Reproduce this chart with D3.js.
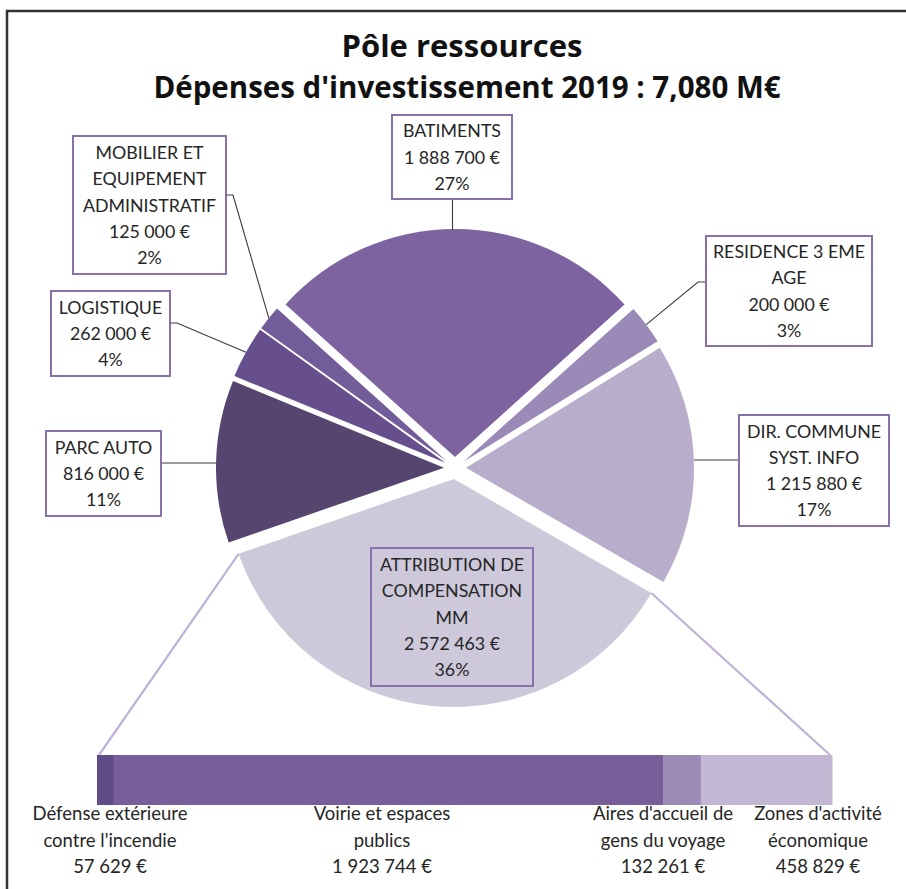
<!DOCTYPE html>
<html>
<head>
<meta charset="utf-8">
<script src="https://cdn.jsdelivr.net/npm/d3@7"></script>
<style>
  html, body { margin: 0; padding: 0; background: #fff; }
  svg { display: block; }
  text { font-family: Lato, "Open Sans", "Liberation Sans", sans-serif; fill: #262626; }
  text.title { font-family: "Open Sans", Lato, sans-serif; }
</style>
</head>
<body>
<svg id="chart" width="906" height="889"></svg>
<script>
// ---- data ----
const title1 = "Pôle ressources";
const title2 = "Dépenses d'investissement 2019 : 7,080 M€";

const pieCategories = [
  ["BATIMENTS"],
  ["RESIDENCE 3 EME", "AGE"],
  ["DIR. COMMUNE", "SYST. INFO"],
  ["ATTRIBUTION DE", "COMPENSATION", "MM"],
  ["PARC AUTO"],
  ["LOGISTIQUE"],
  ["MOBILIER ET", "EQUIPEMENT", "ADMINISTRATIF"]
];
const pieValues = [1888700, 200000, 1215880, 2572463, 816000, 262000, 125000];
const piePercentLabels = ["27%", "3%", "17%", "36%", "11%", "4%", "2%"];

const barCategories = [
  ["Défense extérieure", "contre l'incendie"],
  ["Voirie et espaces", "publics"],
  ["Aires d'accueil de", "gens du voyage"],
  ["Zones d'activité", "économique"]
];
const barValues = [57629, 1923744, 132261, 458829];

// ---- styles / layout ----
const pieColors = ["#7d63a0", "#9b8ab8", "#b8aecb", "#cdc8da", "#55456f", "#664f8c", "#735c9a"];
const barColors = ["#5f4b86", "#775e98", "#9c8bb6", "#c2b8d3"];
const boxStroke = "#8671ad";

const W = 906, H = 889;
const cx = 455, cy = 468, R = 228, explode = 11;
const startDeg = -48;
const explodedIndex = 3;

// label boxes: x, y, w, h, leader anchor side
const boxes = [
  {x: 392, y: 115, w: 120, h: 84, anchor: "bottom"},
  {x: 706, y: 236, w: 166, h: 110, anchor: "left", ay: 282},
  {x: 739, y: 415, w: 150, h: 111, anchor: "left", ay: 460},
  {x: 371, y: 548, w: 162, h: 138, anchor: null},
  {x: 46, y: 431, w: 115, h: 85, anchor: "right", ay: 463},
  {x: 51, y: 291, w: 119, h: 85, anchor: "right", ay: 323},
  {x: 73, y: 136, w: 153, h: 138, anchor: "right", ay: 195}
];

const fr = d3.formatLocale({decimal: ",", thousands: "\u202f", grouping: [3], currency: ["", "\u00a0€"]});
const fmtEuro = v => fr.format(",d")(v) + "\u00a0€";

const svg = d3.select("#chart");
svg.append("rect").attr("width", W).attr("height", H).attr("fill", "#fff");
// outer frame
svg.append("rect").attr("x", 7).attr("y", 11).attr("width", 1000).attr("height", 1000)
  .attr("fill", "none").attr("stroke", "#333").attr("stroke-width", 2.5);

// titles
svg.append("text").attr("class", "title").attr("x", 462).attr("y", 57).attr("text-anchor", "middle")
  .attr("font-size", 31).attr("font-weight", "bold").style("fill", "#111").text(title1);
svg.append("text").attr("class", "title").attr("x", 467).attr("y", 98).attr("text-anchor", "middle")
  .attr("font-size", 29.5).attr("font-weight", "bold").style("fill", "#111").text(title2);

// ---- pie ----
const pie = d3.pie().sort(null)
  .startAngle(startDeg * Math.PI / 180)
  .endAngle((startDeg + 360) * Math.PI / 180);
const arcs = pie(pieValues);
const arcGen = d3.arc().innerRadius(0).outerRadius(R);

function offsetOf(a) {
  const m = (a.startAngle + a.endAngle) / 2;
  return [explode * Math.sin(m), -explode * Math.cos(m)];
}
function outerPoint(a, ang) {
  const m = ang === undefined ? (a.startAngle + a.endAngle) / 2 : ang;
  const o = offsetOf(a);
  return [cx + o[0] + R * Math.sin(m), cy + o[1] - R * Math.cos(m)];
}

const gPie = svg.append("g");
gPie.selectAll("path").data(arcs).join("path")
  .attr("transform", d => { const o = offsetOf(d); return `translate(${cx + o[0]},${cy + o[1]})`; })
  .attr("d", arcGen)
  .attr("fill", (d, i) => pieColors[i]);

// ---- bar of pie ----
const barX0 = 97, barX1 = 832, barY = 755, barH = 50;
const barTotal = d3.sum(barValues);
const xBar = d3.scaleLinear().domain([0, barTotal]).range([barX0, barX1]);
const cum = d3.cumsum([0, ...barValues]);

// connector lines
const ea = arcs[explodedIndex];
const pL = outerPoint(ea, ea.endAngle);
const pR = outerPoint(ea, ea.startAngle);
svg.append("line").attr("x1", pL[0]).attr("y1", pL[1]).attr("x2", barX0 + 2).attr("y2", barY)
  .attr("stroke", "#bfb2d5").attr("stroke-width", 2.2);
svg.append("line").attr("x1", pR[0]).attr("y1", pR[1]).attr("x2", barX1 - 2).attr("y2", barY)
  .attr("stroke", "#bfb2d5").attr("stroke-width", 2.2);

svg.append("g").selectAll("rect").data(barValues).join("rect")
  .attr("x", (d, i) => xBar(cum[i]))
  .attr("width", (d, i) => xBar(cum[i + 1]) - xBar(cum[i]) + 0.5)
  .attr("y", barY).attr("height", barH)
  .attr("fill", (d, i) => barColors[i]);

// bar labels
const barLabelX = [110, 382, 663, 818];
barCategories.forEach((lines, i) => {
  const t = svg.append("text").attr("text-anchor", "middle").attr("font-size", 18.5);
  [...lines, fmtEuro(barValues[i])].forEach((s, k) => {
    t.append("tspan").attr("x", barLabelX[i]).attr("y", 820 + k * 26.5).text(s);
  });
});

// ---- pie labels ----
const gLab = svg.append("g");
arcs.forEach((a, i) => {
  const b = boxes[i];
  const p = outerPoint(a);
  if (b.anchor) {
    let pts;
    if (b.anchor === "bottom") pts = [[b.x + b.w / 2 + 0.5, b.y + b.h], [b.x + b.w / 2 + 0.5, p[1] + 1]];
    else if (b.anchor === "left") pts = [[b.x, b.ay], [b.x - 8, b.ay], p];
    else pts = [[b.x + b.w, b.ay], [b.x + b.w + 7, b.ay], p];
    if (i === 4 || i === 2) pts = [[b.anchor === "left" ? b.x : b.x + b.w, b.ay], [p[0], b.ay]];
    gLab.append("path").attr("d", d3.line()(pts)).attr("fill", "none")
      .attr("stroke", "#3a3a3a").attr("stroke-width", 1.1);
  }
  gLab.append("rect").attr("x", b.x).attr("y", b.y).attr("width", b.w).attr("height", b.h)
    .attr("fill", i === explodedIndex ? "none" : "#fff")
    .attr("stroke", boxStroke).attr("stroke-width", 2);
  const lines = [...pieCategories[i], fmtEuro(pieValues[i]), piePercentLabels[i]];
  const lh = 26.3;
  const top = b.y + b.h / 2 - (lines.length * lh) / 2;
  const t = gLab.append("text").attr("text-anchor", "middle").attr("font-size", 17.8);
  lines.forEach((s, k) => {
    t.append("tspan").attr("x", b.x + b.w / 2).attr("y", top + lh * k + lh / 2 + 6.5).text(s);
  });
});
</script>
</body>
</html>
